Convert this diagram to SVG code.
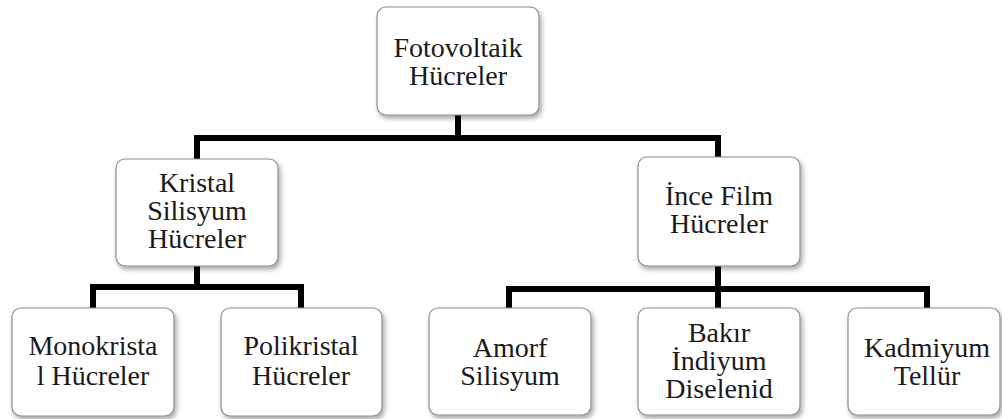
<svg xmlns="http://www.w3.org/2000/svg" width="1002" height="419" viewBox="0 0 1002 419">
<style>
.box{fill:#ffffff;stroke:#8c8c8c;stroke-width:1.2;filter:url(#sh)}
.lbl{font-family:'Liberation Serif','DejaVu Serif',serif;font-size:28px;fill:#1a1a1a;text-anchor:middle}
.con{fill:none;stroke:#000000;stroke-width:6;stroke-linejoin:miter;stroke-linecap:butt}
</style>
<defs>
<filter id="sh" x="-10%" y="-10%" width="125%" height="130%">
<feDropShadow dx="2" dy="3" stdDeviation="2.5" flood-color="#000000" flood-opacity="0.35"/>
</filter>
</defs>
<rect width="1002" height="419" fill="#ffffff"/>
<g id="connectors">
<path class="con" d="M458,115 V138 M197,160 V138 H718 V158"/>
<path class="con" d="M197,266 V287 M93,309 V287 H301 V309"/>
<path class="con" d="M718,266 V309 M509,309 V289 H927 V309"/>
</g>
<g id="n-fotovoltaik">
<rect class="box" x="377" y="7" width="162" height="108" rx="9"/>
<text class="lbl" x="458" y="57" font-family="Liberation Serif, serif">Fotovoltaik</text>
<text class="lbl" x="458" y="85" font-family="Liberation Serif, serif">Hücreler</text>
</g>
<g id="n-kristal">
<rect class="box" x="116" y="159" width="162" height="107" rx="9"/>
<text class="lbl" x="197" y="192">Kristal</text>
<text class="lbl" x="197" y="220">Silisyum</text>
<text class="lbl" x="197" y="248">Hücreler</text>
</g>
<g id="n-ince">
<rect class="box" x="638" y="157" width="162" height="109" rx="9"/>
<text class="lbl" x="719" y="205">İnce Film</text>
<text class="lbl" x="719" y="233">Hücreler</text>
</g>
<g id="n-mono">
<rect class="box" x="12" y="308" width="162" height="108" rx="9"/>
<text class="lbl" x="93" y="355">Monokrista</text>
<text class="lbl" x="93" y="385">l Hücreler</text>
</g>
<g id="n-poli">
<rect class="box" x="221" y="308" width="161" height="108" rx="9"/>
<text class="lbl" x="301" y="355">Polikristal</text>
<text class="lbl" x="301" y="385">Hücreler</text>
</g>
<g id="n-amorf">
<rect class="box" x="429" y="308" width="162" height="107" rx="9"/>
<text class="lbl" x="510" y="357">Amorf</text>
<text class="lbl" x="510" y="385">Silisyum</text>
</g>
<g id="n-bakir">
<rect class="box" x="638" y="308" width="162" height="107" rx="9"/>
<text class="lbl" x="719" y="342">Bakır</text>
<text class="lbl" x="719" y="370">İndiyum</text>
<text class="lbl" x="719" y="398">Diselenid</text>
</g>
<g id="n-kadmiyum">
<rect class="box" x="848" y="308" width="152" height="107" rx="9"/>
<text class="lbl" x="927" y="357">Kadmiyum</text>
<text class="lbl" x="927" y="385">Tellür</text>
</g>
</svg>
